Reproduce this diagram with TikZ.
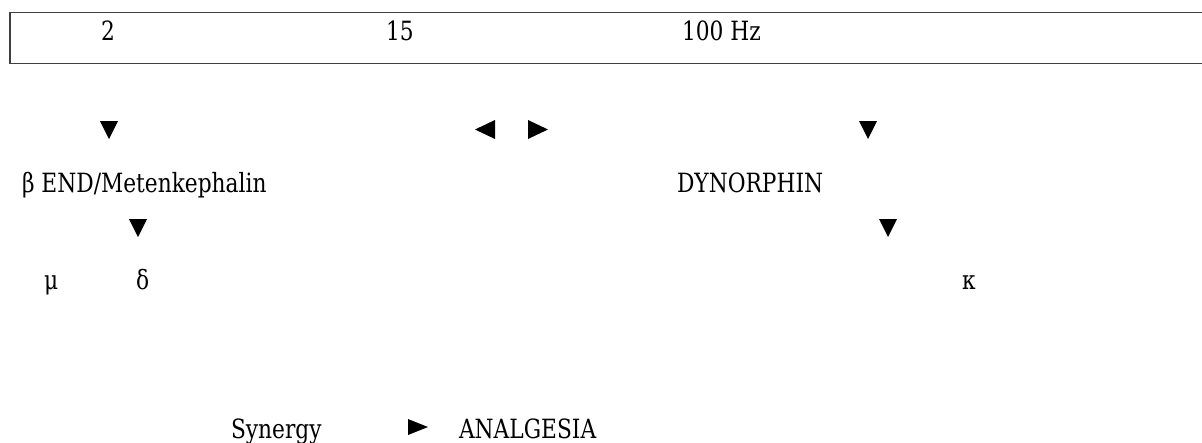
\documentclass[tikz,border=0pt]{standalone}
\usepackage{fontspec}
\setmainfont{DejaVu Serif}[FakeStretch=0.82]
\begin{document}
\begin{tikzpicture}[x=1pt,y=-1pt,
  lbl/.style={anchor=base west,inner sep=0pt,outer sep=0pt,font=\fontsize{26.5}{32}\selectfont,text=black},
  tri/.style={fill=black},
  band/.style={draw=black!75,line width=1.3pt}]
\useasboundingbox (0,0) rectangle (1202,442);
\fill[white] (0,0) rectangle (1202,442);
% frequency band
\draw[band] (10,12.5) rectangle (1215,63.5);
\node[lbl] (f2) at (101,40) {2};
\node[lbl] (f15) at (386,40) {15};
\node[lbl] (f100) at (682,40) {100 Hz};
% arrows (glyph-like triangles)
\fill[tri] (100,121) -- (118,121) -- (109,139) -- cycle;
\fill[tri] (495,120) -- (495,139) -- (475,129.5) -- cycle;
\fill[tri] (528,120) -- (528,139) -- (548,129.5) -- cycle;
\fill[tri] (859,121) -- (877,121) -- (868,139) -- cycle;
\fill[tri] (129,219) -- (147,219) -- (138,237) -- cycle;
\fill[tri] (879,219) -- (897,219) -- (888,237) -- cycle;
\fill[tri] (408,419) -- (408,435) -- (428,427) -- cycle;
% labels
\node[lbl] (bend) at (22,192) {β END/Metenkephalin};
\node[lbl] (dyn) at (677,192) {DYNORPHIN};
\node[lbl] (mu) at (44,289) {μ};
\node[lbl] (delta) at (136,289) {δ};
\node[lbl] (kappa) at (962,289) {κ};
\node[lbl] (syn) at (231,438) {Synergy};
\node[lbl] (anal) at (459,438) {ANALGESIA};
\end{tikzpicture}
\end{document}
